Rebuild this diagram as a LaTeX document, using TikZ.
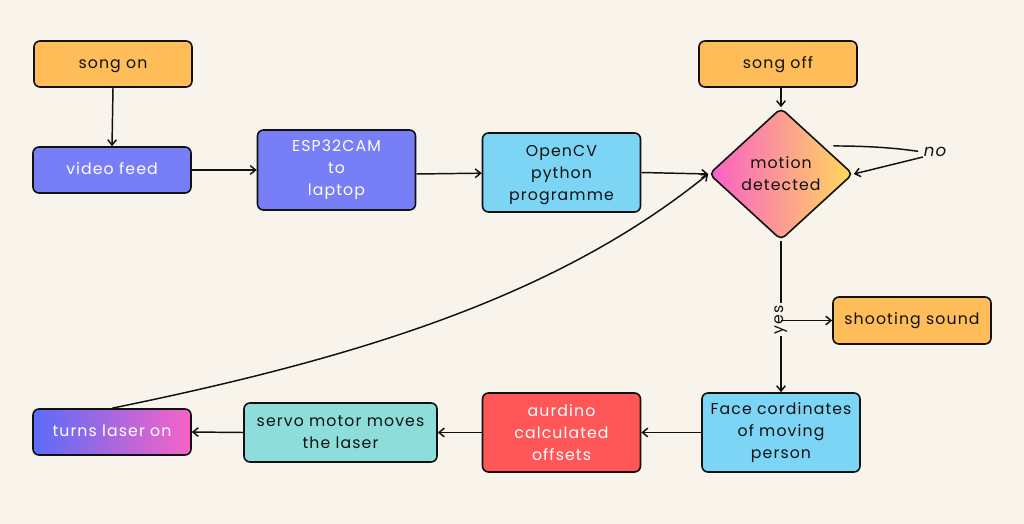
\documentclass[tikz,border=0pt]{standalone}
\usepackage{fontspec}
\setmainfont{Poppins}[LetterSpace=7]
\usetikzlibrary{shapes.geometric,arrows.meta,calc}
\definecolor{bg}{HTML}{F8F4EC}
\definecolor{orng}{HTML}{FFBD59}
\definecolor{viol}{HTML}{787FF6}
\definecolor{lblue}{HTML}{7DD5F6}
\definecolor{redb}{HTML}{FF5757}
\definecolor{teal}{HTML}{8DDEDB}
\definecolor{dpink}{HTML}{F95FC8}
\definecolor{dyel}{HTML}{FFD95B}
\definecolor{gblue}{HTML}{5B6CF9}
\definecolor{gpink}{HTML}{F763C6}
\definecolor{ink}{HTML}{111111}
\tikzset{
  box/.style={draw=ink, line width=1.2pt, rounded corners=4.5pt, align=center,
    inner sep=0pt, text=ink, minimum width=118.5pt, minimum height=34.5pt},
  one/.style={text height=8.5pt, text depth=2pt},
  tall/.style={minimum height=59.25pt},
  wtext/.style={text=white},
  arr/.style={draw=ink, line width=1.1pt, -{Straight Barb[length=4pt,width=6.5pt]}},
  ln/.style={draw=ink, line width=1.1pt},
}
\begin{document}
\begin{tikzpicture}[x=0.75pt,y=-0.75pt,font=\fontsize{11.8}{16.5}\selectfont]
\fill[bg] (0,0) rectangle (1024,524);
\useasboundingbox (0,0) rectangle (1024,524);

\node[box, one, fill=orng] (songon) at (113,64) {song on};
\node[box, one, fill=viol, wtext] (video) at (112,170) {video feed};
\node[box, tall, fill=viol, wtext, minimum height=60pt] (esp) at (336.5,170) {ESP32CAM\\to\\laptop};
\node[box, tall, fill=lblue] (opencv) at (561.5,172.5) {\strut OpenCV\\python\\programme};
\node[box, one, fill=orng] (songoff) at (778,64) {song off};
\node[diamond, draw=ink, line width=1.2pt, rounded corners=4pt, inner sep=0pt,
  minimum width=108pt, minimum height=99pt, left color=dpink, right color=dyel,
  align=center, text=ink] (d) at (781,174) {motion\\detected};
\node[box, one, fill=orng, minimum height=35.25pt] (shoot) at (912,320.5) {shooting sound};
\node[box, tall, fill=lblue] (face) at (781,432.5) {Face cordinates\\of moving\\person};
\node[box, tall, fill=redb, wtext] (aurd) at (561.5,432.5) {aurdino\\calculated\\offsets};
\node[box, fill=teal, minimum width=144.75pt, minimum height=44.25pt] (servo) at (340.5,432.5) {servo motor moves\\the laser};
\node[box, one, wtext, left color=gblue, right color=gpink] (laser) at (112,432) {turns laser on};

\node[inner sep=1pt, text=ink, font=\fontsize{12.5}{15}\selectfont\itshape] (no) at (935,152) {no};

\draw[arr] (songon.south) -- (video.north);
\draw[arr] (video.east) -- (esp.west);
\draw[arr] ([yshift=-3pt]esp.east) -- ([yshift=-0.5pt]opencv.west);
\draw[arr] (opencv.east) -- (d.west);
\draw[arr] (songoff.south -| d.north) -- (d.north);
\coordinate (dne) at ($(d.north)!0.7!(d.east)$);
\draw[ln] ([xshift=1pt,yshift=6pt]dne) .. controls (870,146) and (895,148) .. ([xshift=-3pt,yshift=0.5pt]no.west);
\draw[arr] ([xshift=-9pt,yshift=1pt]no.south) -- (d.east);
\coordinate (yb) at (d.south |- shoot.west);
\draw[arr] (d.south) -- node[pos=0.52, rotate=90, fill=bg, inner sep=1.5pt, text=ink] {yes} (face.north);
\draw[arr] (yb) -- (shoot.west);
\draw[arr] (face.west) -- (aurd.east);
\draw[arr] (aurd.west) -- (servo.east);
\draw[arr] (servo.west) -- (laser.east);
\draw[arr] (laser.north) .. controls (363,357) and (559,295) .. (d.west);
\end{tikzpicture}
\end{document}
